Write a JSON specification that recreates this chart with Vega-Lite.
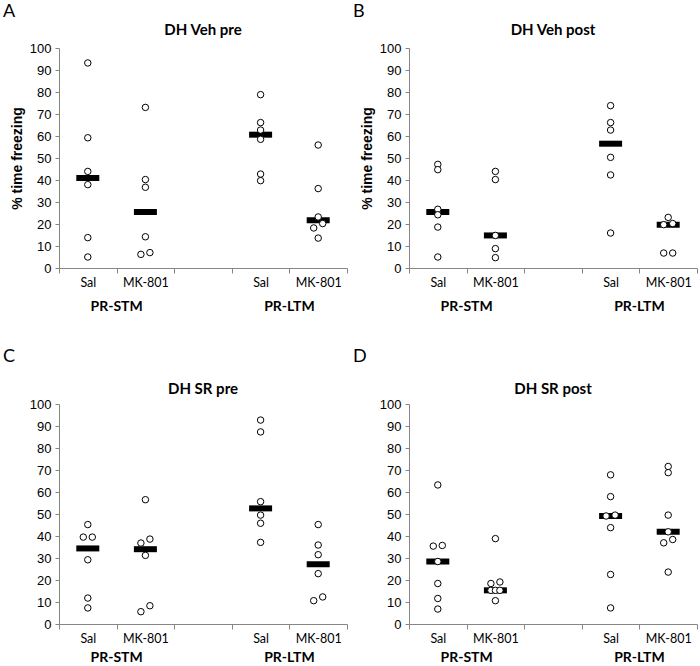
{
  "$schema": "https://vega.github.io/schema/vega-lite/v6.json",
  "padding": {"left": 3, "top": 3, "right": 0, "bottom": 0},
  "columns": 2,
  "spacing": {"row": 35, "column": 5},
  "config": {
    "view": {"stroke": null},
    "title": {"font": "Lato", "fontSize": 15, "fontWeight": "bold", "color": "black"},
    "axis": {"domainColor": "#868686", "tickColor": "#868686", "labelColor": "black", "grid": false}
  },
  "datasets": {
    "pts": [
      {"panel": "A", "cond": "STM Sal", "side": "c", "v": 93.2},
      {"panel": "A", "cond": "STM Sal", "side": "c", "v": 59.2},
      {"panel": "A", "cond": "STM Sal", "side": "c", "v": 43.9},
      {"panel": "A", "cond": "STM Sal", "side": "c", "v": 37.9},
      {"panel": "A", "cond": "STM Sal", "side": "c", "v": 13.8},
      {"panel": "A", "cond": "STM Sal", "side": "c", "v": 5.0},
      {"panel": "A", "cond": "STM MK-801", "side": "c", "v": 73.0},
      {"panel": "A", "cond": "STM MK-801", "side": "c", "v": 40.2},
      {"panel": "A", "cond": "STM MK-801", "side": "c", "v": 36.7},
      {"panel": "A", "cond": "STM MK-801", "side": "c", "v": 14.2},
      {"panel": "A", "cond": "STM MK-801", "side": "l", "v": 6.2},
      {"panel": "A", "cond": "STM MK-801", "side": "r", "v": 7.0},
      {"panel": "A", "cond": "LTM Sal", "side": "c", "v": 78.8},
      {"panel": "A", "cond": "LTM Sal", "side": "c", "v": 66.1},
      {"panel": "A", "cond": "LTM Sal", "side": "c", "v": 62.7},
      {"panel": "A", "cond": "LTM Sal", "side": "c", "v": 58.5},
      {"panel": "A", "cond": "LTM Sal", "side": "c", "v": 42.7},
      {"panel": "A", "cond": "LTM Sal", "side": "c", "v": 39.7},
      {"panel": "A", "cond": "LTM MK-801", "side": "c", "v": 55.9},
      {"panel": "A", "cond": "LTM MK-801", "side": "c", "v": 36.1},
      {"panel": "A", "cond": "LTM MK-801", "side": "c", "v": 23.2},
      {"panel": "A", "cond": "LTM MK-801", "side": "r", "v": 20.2},
      {"panel": "A", "cond": "LTM MK-801", "side": "l", "v": 18.2},
      {"panel": "A", "cond": "LTM MK-801", "side": "c", "v": 13.6},
      {"panel": "B", "cond": "STM Sal", "side": "c", "v": 47.1},
      {"panel": "B", "cond": "STM Sal", "side": "c", "v": 44.7},
      {"panel": "B", "cond": "STM Sal", "side": "c", "v": 26.7},
      {"panel": "B", "cond": "STM Sal", "side": "c", "v": 24.2},
      {"panel": "B", "cond": "STM Sal", "side": "c", "v": 18.6},
      {"panel": "B", "cond": "STM Sal", "side": "c", "v": 5.0},
      {"panel": "B", "cond": "STM MK-801", "side": "c", "v": 43.9},
      {"panel": "B", "cond": "STM MK-801", "side": "c", "v": 40.2},
      {"panel": "B", "cond": "STM MK-801", "side": "c", "v": 14.8},
      {"panel": "B", "cond": "STM MK-801", "side": "c", "v": 8.8},
      {"panel": "B", "cond": "STM MK-801", "side": "c", "v": 4.7},
      {"panel": "B", "cond": "LTM Sal", "side": "c", "v": 73.8},
      {"panel": "B", "cond": "LTM Sal", "side": "c", "v": 66.1},
      {"panel": "B", "cond": "LTM Sal", "side": "c", "v": 62.7},
      {"panel": "B", "cond": "LTM Sal", "side": "c", "v": 50.3},
      {"panel": "B", "cond": "LTM Sal", "side": "c", "v": 42.3},
      {"panel": "B", "cond": "LTM Sal", "side": "c", "v": 15.9},
      {"panel": "B", "cond": "LTM MK-801", "side": "c", "v": 23.0},
      {"panel": "B", "cond": "LTM MK-801", "side": "r", "v": 20.2},
      {"panel": "B", "cond": "LTM MK-801", "side": "l", "v": 19.7},
      {"panel": "B", "cond": "LTM MK-801", "side": "l", "v": 6.8},
      {"panel": "B", "cond": "LTM MK-801", "side": "r", "v": 6.8},
      {"panel": "C", "cond": "STM Sal", "side": "c", "v": 45.2},
      {"panel": "C", "cond": "STM Sal", "side": "l", "v": 39.5},
      {"panel": "C", "cond": "STM Sal", "side": "r", "v": 39.5},
      {"panel": "C", "cond": "STM Sal", "side": "c", "v": 29.2},
      {"panel": "C", "cond": "STM Sal", "side": "c", "v": 11.8},
      {"panel": "C", "cond": "STM Sal", "side": "c", "v": 7.3},
      {"panel": "C", "cond": "STM MK-801", "side": "c", "v": 56.5},
      {"panel": "C", "cond": "STM MK-801", "side": "r", "v": 38.6},
      {"panel": "C", "cond": "STM MK-801", "side": "l", "v": 36.8},
      {"panel": "C", "cond": "STM MK-801", "side": "c", "v": 31.2},
      {"panel": "C", "cond": "STM MK-801", "side": "r", "v": 8.3},
      {"panel": "C", "cond": "STM MK-801", "side": "l", "v": 5.6},
      {"panel": "C", "cond": "LTM Sal", "side": "c", "v": 92.7},
      {"panel": "C", "cond": "LTM Sal", "side": "c", "v": 87.3},
      {"panel": "C", "cond": "LTM Sal", "side": "c", "v": 55.6},
      {"panel": "C", "cond": "LTM Sal", "side": "c", "v": 49.5},
      {"panel": "C", "cond": "LTM Sal", "side": "c", "v": 45.8},
      {"panel": "C", "cond": "LTM Sal", "side": "c", "v": 37.1},
      {"panel": "C", "cond": "LTM MK-801", "side": "c", "v": 45.2},
      {"panel": "C", "cond": "LTM MK-801", "side": "c", "v": 35.9},
      {"panel": "C", "cond": "LTM MK-801", "side": "c", "v": 31.5},
      {"panel": "C", "cond": "LTM MK-801", "side": "c", "v": 22.9},
      {"panel": "C", "cond": "LTM MK-801", "side": "r", "v": 12.3},
      {"panel": "C", "cond": "LTM MK-801", "side": "l", "v": 10.6},
      {"panel": "D", "cond": "STM Sal", "side": "c", "v": 63.2},
      {"panel": "D", "cond": "STM Sal", "side": "l", "v": 35.4},
      {"panel": "D", "cond": "STM Sal", "side": "r", "v": 35.7},
      {"panel": "D", "cond": "STM Sal", "side": "c", "v": 28.4},
      {"panel": "D", "cond": "STM Sal", "side": "c", "v": 18.4},
      {"panel": "D", "cond": "STM Sal", "side": "c", "v": 11.6},
      {"panel": "D", "cond": "STM Sal", "side": "c", "v": 6.8},
      {"panel": "D", "cond": "STM MK-801", "side": "c", "v": 38.8},
      {"panel": "D", "cond": "STM MK-801", "side": "l", "v": 18.4},
      {"panel": "D", "cond": "STM MK-801", "side": "r", "v": 19.1},
      {"panel": "D", "cond": "STM MK-801", "side": "l", "v": 15.3},
      {"panel": "D", "cond": "STM MK-801", "side": "c", "v": 15.3},
      {"panel": "D", "cond": "STM MK-801", "side": "r", "v": 15.3},
      {"panel": "D", "cond": "STM MK-801", "side": "c", "v": 10.6},
      {"panel": "D", "cond": "LTM Sal", "side": "c", "v": 67.8},
      {"panel": "D", "cond": "LTM Sal", "side": "c", "v": 57.9},
      {"panel": "D", "cond": "LTM Sal", "side": "l", "v": 49.1},
      {"panel": "D", "cond": "LTM Sal", "side": "r", "v": 49.5},
      {"panel": "D", "cond": "LTM Sal", "side": "c", "v": 43.8},
      {"panel": "D", "cond": "LTM Sal", "side": "c", "v": 22.5},
      {"panel": "D", "cond": "LTM Sal", "side": "c", "v": 7.3},
      {"panel": "D", "cond": "LTM MK-801", "side": "c", "v": 71.6},
      {"panel": "D", "cond": "LTM MK-801", "side": "c", "v": 68.8},
      {"panel": "D", "cond": "LTM MK-801", "side": "c", "v": 49.5},
      {"panel": "D", "cond": "LTM MK-801", "side": "c", "v": 41.9},
      {"panel": "D", "cond": "LTM MK-801", "side": "r", "v": 38.4},
      {"panel": "D", "cond": "LTM MK-801", "side": "l", "v": 36.9},
      {"panel": "D", "cond": "LTM MK-801", "side": "c", "v": 23.6}
    ],
    "groups": [{"memory": "PR-STM"}, {"memory": "PR-LTM"}]
  },
  "concat": [
    {
      "title": {"text": "A", "anchor": "start", "frame": "group", "dx": -56, "offset": 2, "fontSize": 18, "fontWeight": "normal"},
      "vconcat": [
        {
          "width": 288, "height": 220,
          "title": {"text": "DH Veh pre", "anchor": "middle", "frame": "group", "offset": 4},
          "resolve": {"scale": {"x": "independent"}},
          "layer": [
            {
              "data": {"name": "pts"},
              "transform": [{"filter": "datum.panel === 'A'"}],
              "encoding": {
                "x": {"field": "cond", "type": "nominal", "scale": {"type": "band", "domain": ["STM Sal", "STM MK-801", "gap", "LTM Sal", "LTM MK-801"], "paddingInner": 0, "paddingOuter": 0},
                  "axis": {"title": null, "labelAngle": 0, "tickBand": "extent", "tickSize": 5, "labelPadding": 3, "labelFont": "Lato", "labelFontSize": 12.5, "labelExpr": "datum.value === 'gap' ? '' : split(datum.value, ' ')[1]"}},
                "y": {"field": "v", "type": "quantitative", "scale": {"domain": [0, 100]},
                  "axis": {"title": "% time freezing", "values": [0, 10, 20, 30, 40, 50, 60, 70, 80, 90, 100], "tickSize": 4, "labelPadding": 4, "labelFont": "Liberation Sans", "labelFontSize": 13, "titleFont": "Liberation Sans", "titleFontSize": 14, "titleFontWeight": "bold", "titleColor": "black", "titlePadding": 5}}
              },
              "layer": [
                {"mark": {"type": "tick", "color": "black", "thickness": 6, "size": 23, "opacity": 1}, "encoding": {"y": {"aggregate": "median", "field": "v", "type": "quantitative"}}},
                {"mark": {"type": "point", "shape": "circle", "filled": false, "fill": "white", "fillOpacity": 1, "stroke": "black", "strokeWidth": 1, "size": 42, "opacity": 1},
                  "encoding": {"xOffset": {"field": "side", "type": "nominal", "scale": {"type": "point", "domain": ["l", "c", "r"], "range": [24.3, 33.3], "padding": 0}}}}
              ]
            },
            {
              "data": {"name": "groups"},
              "mark": {"type": "text", "text": ""},
              "encoding": {"x": {"field": "memory", "type": "nominal", "scale": {"type": "band", "domain": ["PR-STM", "PR-LTM"], "paddingInner": 0.3333, "paddingOuter": 0},
                "axis": {"orient": "bottom", "offset": 29, "title": null, "domain": false, "ticks": false, "labelPadding": 2, "labelAngle": 0, "labelDx": 5, "labelFont": "Lato", "labelFontSize": 14, "labelFontWeight": "bold"}}}
            }
          ]
        }
      ]
    },
    {
      "title": {"text": "B", "anchor": "start", "frame": "group", "dx": -56, "offset": 2, "fontSize": 18, "fontWeight": "normal"},
      "vconcat": [
        {
          "width": 288, "height": 220,
          "title": {"text": "DH Veh post", "anchor": "middle", "frame": "group", "offset": 4},
          "resolve": {"scale": {"x": "independent"}},
          "layer": [
            {
              "data": {"name": "pts"},
              "transform": [{"filter": "datum.panel === 'B'"}],
              "encoding": {
                "x": {"field": "cond", "type": "nominal", "scale": {"type": "band", "domain": ["STM Sal", "STM MK-801", "gap", "LTM Sal", "LTM MK-801"], "paddingInner": 0, "paddingOuter": 0},
                  "axis": {"title": null, "labelAngle": 0, "tickBand": "extent", "tickSize": 5, "labelPadding": 3, "labelFont": "Lato", "labelFontSize": 12.5, "labelExpr": "datum.value === 'gap' ? '' : split(datum.value, ' ')[1]"}},
                "y": {"field": "v", "type": "quantitative", "scale": {"domain": [0, 100]},
                  "axis": {"title": "% time freezing", "values": [0, 10, 20, 30, 40, 50, 60, 70, 80, 90, 100], "tickSize": 4, "labelPadding": 4, "labelFont": "Liberation Sans", "labelFontSize": 13, "titleFont": "Liberation Sans", "titleFontSize": 14, "titleFontWeight": "bold", "titleColor": "black", "titlePadding": 5}}
              },
              "layer": [
                {"mark": {"type": "tick", "color": "black", "thickness": 6, "size": 23, "opacity": 1}, "encoding": {"y": {"aggregate": "median", "field": "v", "type": "quantitative"}}},
                {"mark": {"type": "point", "shape": "circle", "filled": false, "fill": "white", "fillOpacity": 1, "stroke": "black", "strokeWidth": 1, "size": 42, "opacity": 1},
                  "encoding": {"xOffset": {"field": "side", "type": "nominal", "scale": {"type": "point", "domain": ["l", "c", "r"], "range": [24.3, 33.3], "padding": 0}}}}
              ]
            },
            {
              "data": {"name": "groups"},
              "mark": {"type": "text", "text": ""},
              "encoding": {"x": {"field": "memory", "type": "nominal", "scale": {"type": "band", "domain": ["PR-STM", "PR-LTM"], "paddingInner": 0.3333, "paddingOuter": 0},
                "axis": {"orient": "bottom", "offset": 29, "title": null, "domain": false, "ticks": false, "labelPadding": 2, "labelAngle": 0, "labelDx": 5, "labelFont": "Lato", "labelFontSize": 14, "labelFontWeight": "bold"}}}
            }
          ]
        }
      ]
    },
    {
      "title": {"text": "C", "anchor": "start", "frame": "group", "dx": -56, "offset": 16, "fontSize": 18, "fontWeight": "normal"},
      "vconcat": [
        {
          "width": 288, "height": 220,
          "title": {"text": "DH SR pre", "anchor": "middle", "frame": "group", "offset": 1},
          "resolve": {"scale": {"x": "independent"}},
          "layer": [
            {
              "data": {"name": "pts"},
              "transform": [{"filter": "datum.panel === 'C'"}],
              "encoding": {
                "x": {"field": "cond", "type": "nominal", "scale": {"type": "band", "domain": ["STM Sal", "STM MK-801", "gap", "LTM Sal", "LTM MK-801"], "paddingInner": 0, "paddingOuter": 0},
                  "axis": {"title": null, "labelAngle": 0, "tickBand": "extent", "tickSize": 5, "labelPadding": 3, "labelFont": "Lato", "labelFontSize": 12.5, "labelExpr": "datum.value === 'gap' ? '' : split(datum.value, ' ')[1]"}},
                "y": {"field": "v", "type": "quantitative", "scale": {"domain": [0, 100]},
                  "axis": {"title": null, "values": [0, 10, 20, 30, 40, 50, 60, 70, 80, 90, 100], "tickSize": 4, "labelPadding": 4, "labelFont": "Liberation Sans", "labelFontSize": 13}}
              },
              "layer": [
                {"mark": {"type": "tick", "color": "black", "thickness": 6, "size": 23, "opacity": 1}, "encoding": {"y": {"aggregate": "median", "field": "v", "type": "quantitative"}}},
                {"mark": {"type": "point", "shape": "circle", "filled": false, "fill": "white", "fillOpacity": 1, "stroke": "black", "strokeWidth": 1, "size": 42, "opacity": 1},
                  "encoding": {"xOffset": {"field": "side", "type": "nominal", "scale": {"type": "point", "domain": ["l", "c", "r"], "range": [24.3, 33.3], "padding": 0}}}}
              ]
            },
            {
              "data": {"name": "groups"},
              "mark": {"type": "text", "text": ""},
              "encoding": {"x": {"field": "memory", "type": "nominal", "scale": {"type": "band", "domain": ["PR-STM", "PR-LTM"], "paddingInner": 0.3333, "paddingOuter": 0},
                "axis": {"orient": "bottom", "offset": 24, "title": null, "domain": false, "ticks": false, "labelPadding": 2, "labelAngle": 0, "labelDx": 5, "labelFont": "Lato", "labelFontSize": 14, "labelFontWeight": "bold"}}}
            }
          ]
        }
      ]
    },
    {
      "title": {"text": "D", "anchor": "start", "frame": "group", "dx": -56, "offset": 16, "fontSize": 18, "fontWeight": "normal"},
      "vconcat": [
        {
          "width": 288, "height": 220,
          "title": {"text": "DH SR post", "anchor": "middle", "frame": "group", "offset": 1},
          "resolve": {"scale": {"x": "independent"}},
          "layer": [
            {
              "data": {"name": "pts"},
              "transform": [{"filter": "datum.panel === 'D'"}],
              "encoding": {
                "x": {"field": "cond", "type": "nominal", "scale": {"type": "band", "domain": ["STM Sal", "STM MK-801", "gap", "LTM Sal", "LTM MK-801"], "paddingInner": 0, "paddingOuter": 0},
                  "axis": {"title": null, "labelAngle": 0, "tickBand": "extent", "tickSize": 5, "labelPadding": 3, "labelFont": "Lato", "labelFontSize": 12.5, "labelExpr": "datum.value === 'gap' ? '' : split(datum.value, ' ')[1]"}},
                "y": {"field": "v", "type": "quantitative", "scale": {"domain": [0, 100]},
                  "axis": {"title": null, "values": [0, 10, 20, 30, 40, 50, 60, 70, 80, 90, 100], "tickSize": 4, "labelPadding": 4, "labelFont": "Liberation Sans", "labelFontSize": 13}}
              },
              "layer": [
                {"mark": {"type": "tick", "color": "black", "thickness": 6, "size": 23, "opacity": 1}, "encoding": {"y": {"aggregate": "median", "field": "v", "type": "quantitative"}}},
                {"mark": {"type": "point", "shape": "circle", "filled": false, "fill": "white", "fillOpacity": 1, "stroke": "black", "strokeWidth": 1, "size": 42, "opacity": 1},
                  "encoding": {"xOffset": {"field": "side", "type": "nominal", "scale": {"type": "point", "domain": ["l", "c", "r"], "range": [24.3, 33.3], "padding": 0}}}}
              ]
            },
            {
              "data": {"name": "groups"},
              "mark": {"type": "text", "text": ""},
              "encoding": {"x": {"field": "memory", "type": "nominal", "scale": {"type": "band", "domain": ["PR-STM", "PR-LTM"], "paddingInner": 0.3333, "paddingOuter": 0},
                "axis": {"orient": "bottom", "offset": 24, "title": null, "domain": false, "ticks": false, "labelPadding": 2, "labelAngle": 0, "labelDx": 5, "labelFont": "Lato", "labelFontSize": 14, "labelFontWeight": "bold"}}}
            }
          ]
        }
      ]
    }
  ]
}
